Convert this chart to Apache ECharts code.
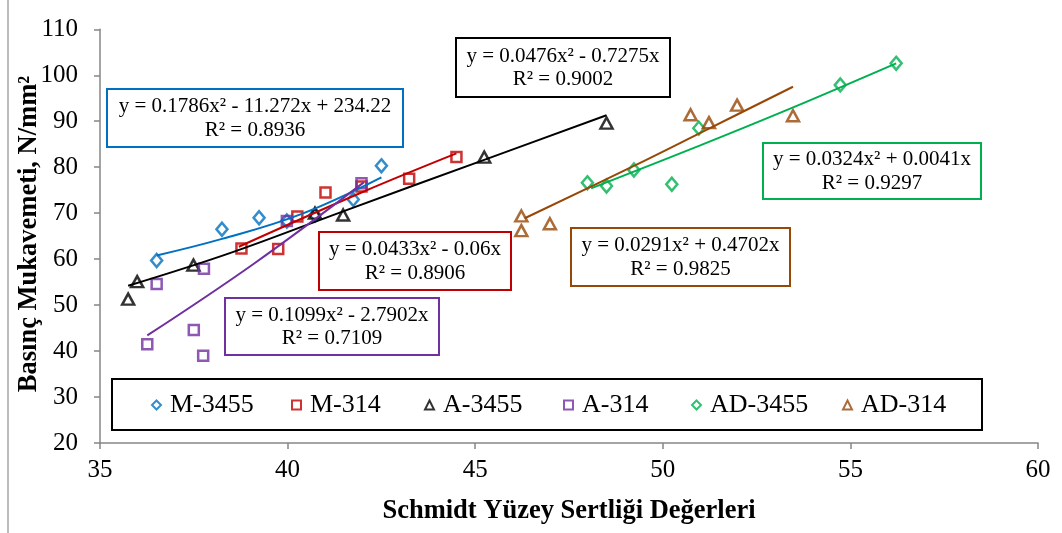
<!DOCTYPE html>
<html>
<head>
<meta charset="utf-8">
<script src="https://cdn.jsdelivr.net/npm/echarts@6/dist/echarts.min.js"></script>
<style>
  html, body { margin: 0; padding: 0; background: #fff; }
  #chart { width: 1062px; height: 533px; }
</style>
</head>
<body>
<div id="chart"></div>
<script>
// Measured points: [Schmidt hardness, compressive strength N/mm²]
const ptsM3455  = [[36.51, 59.7], [38.25, 66.5], [39.24, 69.0], [39.98, 68.3], [40.73, 69.6], [41.75, 73.0], [42.50, 80.3]];
const ptsM314   = [[38.77, 62.3], [39.75, 62.2], [40.26, 69.3], [41.01, 74.5], [41.97, 75.8], [43.24, 77.5], [44.50, 82.2]];
const ptsA3455  = [[35.75, 51.3], [35.99, 55.1], [37.49, 58.7], [40.73, 70.0], [41.48, 69.6], [45.24, 82.2], [48.50, 89.6]];
const ptsA314   = [[36.26, 41.5], [36.51, 54.6], [37.50, 44.6], [37.77, 57.9], [37.75, 39.0], [39.98, 68.3], [41.97, 76.5]];
const ptsAD3455 = [[47.99, 76.6], [48.50, 75.9], [49.23, 79.4], [50.24, 76.3], [50.96, 88.5], [54.73, 97.9], [56.22, 102.6]];
const ptsAD314  = [[46.23, 69.4], [46.23, 66.2], [46.99, 67.7], [50.74, 91.4], [51.23, 89.7], [51.98, 93.5], [53.47, 91.2]];

// Polynomial trend curves, sampled along each fitted line
const fitM3455  = [[36.51, 60.8], [38.25, 64.4], [40.36, 69.8], [42.50, 77.8]];
const fitM314   = [[38.70, 62.7], [41.97, 74.5], [44.50, 83.0]];
const fitA3455  = [[35.75, 54.2], [38.46, 61.3], [41.48, 70.4], [45.24, 81.6], [48.50, 91.3]];
const fitA314   = [[36.26, 43.4], [39.10, 59.0], [42.03, 76.7]];
const fitAD3455 = [[48.09, 75.4], [50.98, 84.7], [53.41, 92.8], [56.22, 102.6]];
const fitAD314  = [[46.32, 68.9], [49.16, 80.0], [51.23, 88.4], [53.47, 97.5]];

// Series names and trend equations
const seriesNames = ['M-3455', 'M-314', 'A-3455', 'A-314', 'AD-3455', 'AD-314'];
const equations = [
  ['y = 0.1786x² - 11.272x + 234.22', 'R² = 0.8936'],
  ['y = 0.0433x² - 0.06x', 'R² = 0.8906'],
  ['y = 0.0476x² - 0.7275x', 'R² = 0.9002'],
  ['y = 0.1099x² - 2.7902x', 'R² = 0.7109'],
  ['y = 0.0324x² + 0.0041x', 'R² = 0.9297'],
  ['y = 0.0291x² + 0.4702x', 'R² = 0.9825']
];

// Axis ranges and titles
const xTicks = [35, 60, 5];
const yTicks = [20, 110, 10];
const xTitle = 'Schmidt Yüzey Sertliği Değerleri';
const yTitle = 'Basınç Mukavemeti, N/mm²';

const points = [ptsM3455, ptsM314, ptsA3455, ptsA314, ptsAD3455, ptsAD314];
const fits = [fitM3455, fitM314, fitA3455, fitA314, fitAD3455, fitAD314];

// Styling
const FONT = '"Liberation Serif", "Times New Roman", serif';
const colors = ['#0070C0', '#C00000', '#000000', '#7030A0', '#00B050', '#974706'];
const symbols = ['diamond', 'rect', 'triangle', 'rect', 'diamond', 'triangle'];
const symbolSizes = [[11, 13], 10, [12, 11], 10, [11, 13], [12, 11]];
const legendLeft = [151, 291, 424, 563, 691, 842];
// equation boxes: [left, top, width, height]
const eqBoxes = [
  [107, 89, 296, 58],
  [319, 232, 192, 58],
  [456, 38, 214, 59],
  [225, 298, 214, 57],
  [763, 143, 218, 56],
  [571, 228, 219, 58]
];

const series = [];
points.forEach((pts, i) => {
  series.push({
    name: seriesNames[i],
    type: 'scatter',
    data: pts,
    symbol: symbols[i],
    symbolSize: symbolSizes[i],
    itemStyle: { color: 'rgba(255,255,255,0)', borderColor: colors[i], borderWidth: 2.5 },
    z: 2
  });
});
fits.forEach((pts, i) => {
  series.push({
    name: seriesNames[i] + ' trend',
    type: 'line',
    data: pts,
    smooth: 0.4,
    showSymbol: false,
    symbol: 'none',
    lineStyle: { color: colors[i], width: 2 },
    silent: true,
    z: 3
  });
});

const legends = seriesNames.map((n, i) => ({
  data: [{ name: n, icon: symbols[i] }],
  left: legendLeft[i],
  top: 392,
  itemWidth: 9,
  itemHeight: 9,
  itemGap: 0,
  padding: 0,
  symbolKeepAspect: true,
  itemStyle: { color: 'rgba(255,255,255,0)', borderColor: colors[i], borderWidth: 2 },
  textStyle: { fontFamily: FONT, fontSize: 26, color: '#000', padding: [0, 0, 0, 4] },
  selectedMode: false,
  z: 6
}));

const graphics = [
  { type: 'line', shape: { x1: 8, y1: 0, x2: 8, y2: 533 }, style: { stroke: '#a6a6a6', lineWidth: 1.5 }, z: 1 },
  { type: 'rect', shape: { x: 112, y: 379, width: 870, height: 51 },
    style: { fill: '#fff', stroke: '#000', lineWidth: 2 }, z: 5 },
  { type: 'text', x: 569, y: 511,
    style: { text: xTitle, fontFamily: FONT, fontSize: 26.5, fontWeight: 'bold', fill: '#000', align: 'center', verticalAlign: 'middle' }, z: 5 },
  { type: 'text', x: 29, y: 234, rotation: Math.PI / 2,
    style: { text: yTitle, fontFamily: FONT, fontSize: 26.5, fontWeight: 'bold', fill: '#000', align: 'center', verticalAlign: 'middle' }, z: 5 }
];
eqBoxes.forEach((b, i) => {
  const cx = b[0] + b[2] / 2;
  const mid = b[1] + b[3] / 2;
  graphics.push({
    type: 'group',
    z: 5,
    children: [
      { type: 'rect', shape: { x: b[0], y: b[1], width: b[2], height: b[3] },
        style: { fill: '#fff', stroke: colors[i], lineWidth: 2 }, z: 5 },
      { type: 'text', x: cx, y: mid - 11.5,
        style: { text: equations[i][0], fontFamily: FONT, fontSize: 21, fill: '#000', align: 'center', verticalAlign: 'middle' }, z: 5 },
      { type: 'text', x: cx, y: mid + 12,
        style: { text: equations[i][1], fontFamily: FONT, fontSize: 21, fill: '#000', align: 'center', verticalAlign: 'middle' }, z: 5 }
    ]
  });
});

const chart = echarts.init(document.getElementById('chart'), null, { renderer: 'canvas' });
chart.setOption({
  animation: false,
  backgroundColor: '#fff',
  grid: { left: 100, right: 24, top: 29.3, bottom: 90, containLabel: false, outerBoundsMode: 'none' },
  xAxis: {
    type: 'value',
    min: xTicks[0], max: xTicks[1], interval: xTicks[2],
    axisLine: { show: true, lineStyle: { color: '#868686', width: 1.5 } },
    axisTick: { show: true, inside: false, length: 6, lineStyle: { color: '#868686', width: 1.5 } },
    axisLabel: { fontFamily: FONT, fontSize: 25, color: '#000', margin: 15 },
    splitLine: { show: false }
  },
  yAxis: {
    type: 'value',
    min: yTicks[0], max: yTicks[1], interval: yTicks[2],
    axisLine: { show: true, lineStyle: { color: '#868686', width: 1.5 } },
    axisTick: { show: true, inside: false, length: 6, lineStyle: { color: '#868686', width: 1.5 } },
    axisLabel: { fontFamily: FONT, fontSize: 25, color: '#000', margin: 22 },
    splitLine: { show: false }
  },
  legend: legends,
  graphic: graphics,
  series: series
});
</script>
</body>
</html>
